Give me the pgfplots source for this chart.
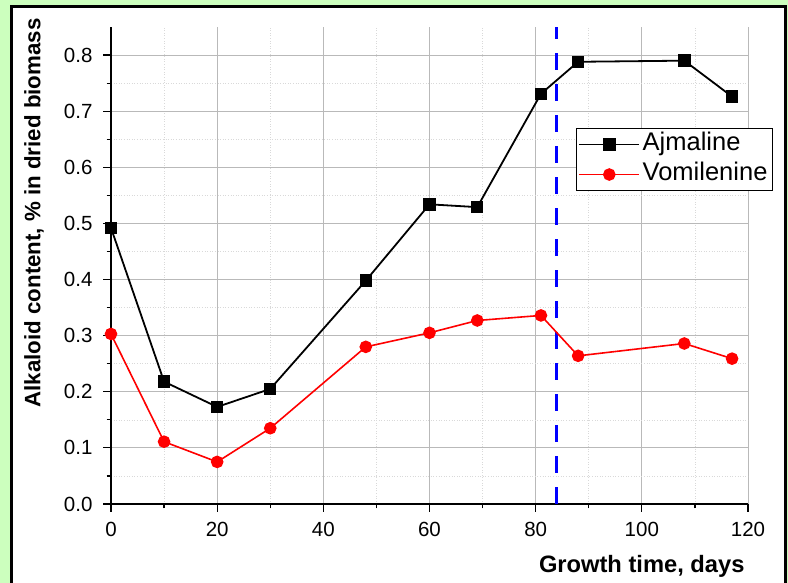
\documentclass[border=0pt]{standalone}
\usepackage{pgfplots}
\pgfplotsset{compat=1.18}
\usepackage{fontspec}
\setmainfont{Liberation Sans}
\definecolor{bggreen}{RGB}{204,255,190}
\definecolor{ajm}{RGB}{0,0,0}
\definecolor{vom}{RGB}{255,0,0}
\newcommand{\tl}{\fontsize{20.5}{22}\selectfont}
\begin{document}
\begin{tikzpicture}[x=1pt,y=1pt]
\useasboundingbox (0,0) rectangle (788,583);
\fill[bggreen] (0,0) rectangle (788,583);
\draw[line width=3pt,fill=white] (11.5,-20) rectangle (785.5,576.5);
\begin{axis}[
  at={(111pt,79pt)}, anchor=south west,
  scale only axis, width=637pt, height=477pt,
  xmin=0, xmax=120, ymin=0, ymax=0.85,
  axis lines*=left,
  axis line style={line width=1.5pt, black},
  xtick={0,20,40,60,80,100,120},
  xticklabels={{\tl 0},{\tl 20},{\tl 40},{\tl 60},{\tl 80},{\tl 100},{\tl 120}},
  ytick={0,0.1,0.2,0.3,0.4,0.5,0.6,0.7,0.8},
  yticklabels={{\tl 0.0},{\tl 0.1},{\tl 0.2},{\tl 0.3},{\tl 0.4},{\tl 0.5},{\tl 0.6},{\tl 0.7},{\tl 0.8}},
  minor x tick num=1, minor y tick num=1,
  tick align=outside,
  major tick length=8pt, minor tick length=4.5pt,
  tick style={line width=1.2pt, black},
  grid=both,
  major grid style={line width=0.8pt, gray!55},
  minor grid style={line width=0.6pt, gray!30, dotted},
  yticklabel style={xshift=-7pt},
  xticklabel style={yshift=-7pt},
  xlabel={\bfseries Growth time, days},
  xlabel style={font=\fontsize{23.7}{26}\selectfont, at={(axis description cs:1,-0.13)}, anchor=east},
  ylabel={\bfseries Alkaloid content, \% in dried biomass},
  ylabel style={font=\fontsize{22.3}{24}\selectfont, at={(axis description cs:-0.121,0.61)}, anchor=center, rotate=0},
  legend style={at={(0.730,0.788)}, anchor=north west, draw=black, line width=0.8pt, font=\fontsize{25.5}{28}\selectfont, inner xsep=2pt, inner ysep=1pt, row sep=0pt, fill=white,
    nodes={text height=18.5pt, text depth=6.5pt, inner sep=2.5pt}},
  legend cell align=left,
  legend image code/.code={\draw[mark repeat=2,mark phase=2] plot coordinates {(0pt,0pt) (30pt,0pt) (60pt,0pt)};},
  clip=false,
]
\addplot[blue, line width=3pt, dash pattern=on 17pt off 14pt, forget plot] coordinates {(84,0) (84,0.85)};
\addplot[ajm, line width=1.8pt, mark=square*, mark size=5.3pt, mark options={solid}] coordinates {
(0,0.492) (10,0.218) (20,0.173) (30,0.205) (48,0.398) (60,0.534) (69,0.529) (81,0.731) (88,0.788) (108,0.790) (117,0.726)};
\addlegendentry{Ajmaline}
\addplot[vom, line width=1.6pt, mark=*, mark size=5.5pt, mark options={solid}] coordinates {
(0,0.303) (10,0.111) (20,0.075) (30,0.135) (48,0.280) (60,0.305) (69,0.327) (81,0.336) (88,0.264) (108,0.286) (117,0.259)};
\addlegendentry{Vomilenine}
\end{axis}
\end{tikzpicture}
\end{document}
